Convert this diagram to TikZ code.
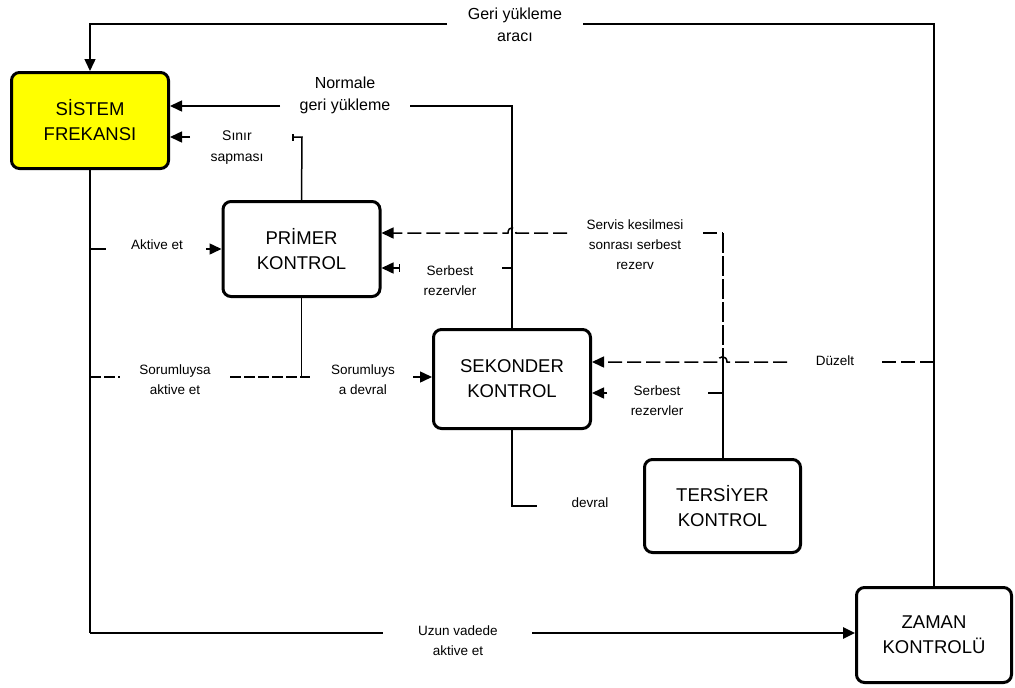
\documentclass[tikz,border=0pt]{standalone}
\usepackage{fontspec}
\setmainfont{Liberation Sans}
\usetikzlibrary{arrows.meta}
\definecolor{sysyellow}{HTML}{FFFF00}
\begin{document}
\begin{tikzpicture}[x=1pt,y=-1pt,
  box/.style={draw,line width=3pt,rounded corners=8pt,align=center,inner sep=0pt,
    font=\fontsize{18.5}{25}\selectfont},
  lbl/.style={align=center,inner sep=0pt,font=\fontsize{13.5}{20}\selectfont},
  biglbl/.style={align=center,inner sep=0pt,font=\fontsize{16}{22}\selectfont},
  conn/.style={line width=1.5pt},
  thickconn/.style={line width=2.6pt},
  tip/.style={-{Triangle[length=12pt,width=11pt]}},
  dsh/.style={conn,dash pattern=on 14pt off 5pt},
  vdsh/.style={line width=2pt,dash pattern=on 20pt off 3pt},
  tdsh/.style={thickconn,dash pattern=on 11pt off 3pt},
]
\useasboundingbox (0,0) rectangle (1015,688);

% boxes
\node[box,fill=sysyellow,minimum width=157pt,minimum height=96pt] (sis) at (90,120.5) {SİSTEM\\FREKANSI};
\node[box,minimum width=157pt,minimum height=95pt] (prim) at (301.5,249) {PRİMER\\KONTROL};
\node[box,minimum width=157pt,minimum height=99pt] (sek) at (512,379) {SEKONDER\\KONTROL};
\node[box,minimum width=156pt,minimum height=93pt] (ter) at (722.5,506) {TERSİYER\\KONTROL};
\node[box,minimum width=155pt,minimum height=95pt] (zam) at (934,635) {ZAMAN\\KONTROLÜ};

% labels
\node[biglbl] (geri) at (515,25) {Geri yükleme\\aracı};
\node[biglbl] (norm) at (345,95) {Normale\\geri yükleme};
\node[lbl,font=\fontsize{14}{21}\selectfont] (sinir) at (237,148) {Sınır\\sapması};
\node[lbl] (akt) at (157,245) {Aktive et};
\node[lbl] (soract) at (175,380) {Sorumluysa\\aktive et};
\node[lbl] (sordev) at (363,380) {Sorumluys\\a devral};
\node[lbl] (servis) at (635,245) {Servis kesilmesi\\sonrası serbest\\rezerv};
\node[lbl] (serb1) at (450,281) {Serbest\\rezervler};
\node[lbl] (duz) at (835,361) {Düzelt};
\node[lbl] (serb2) at (657,401) {Serbest\\rezervler};
\node[lbl] (devral) at (590,503) {devral};
\node[lbl] (uzun) at (458,641) {Uzun vadede\\aktive et};

% coordinates for free ends
\coordinate (t1) at (447,24);
\coordinate (t2) at (583,24);
\coordinate (n1) at (410,106);
\coordinate (n2) at (280,106);
\coordinate (s0) at (302,137);
\coordinate (s1) at (190,137);
\coordinate (a1) at (106,249);
\coordinate (a2) at (206,249);
\coordinate (u1) at (383,633);
\coordinate (u2) at (532,633);
\coordinate (r1) at (120,377);
\coordinate (r2) at (230,377);
\coordinate (r3) at (310,377);
\coordinate (r4) at (413,377);
\coordinate (v1) at (567,233);
\coordinate (v2) at (703,233);
\coordinate (b1) at (400,268);
\coordinate (b2) at (502,268);
\coordinate (d1) at (882,362);
\coordinate (d2) at (787,362);
\coordinate (c1) at (607,393);
\coordinate (c2) at (708,393);
\coordinate (e1) at (537,506);

% top loop
\draw[conn,tip] (t1) -- (sis.north |- t1) -- (sis.north);
\draw[conn] (t2) -- (zam.north |- t2) -- (zam.north);

% normale geri yukleme
\draw[conn] (n1) -- (sek.north |- n1) -- (sek.north);
\draw[conn,tip] (n2) -- (sis.east |- n2);

% sinir sapmasi
\draw[conn,{Bar[width=7pt]}-] ([xshift=-10pt]s0) -- (s0) -- (prim.north);
\draw[conn,tip] (s1) -- (sis.east |- s1);

% aktive et
\draw[conn] (sis.south |- a1) -- (a1);
\draw[conn,tip] (a2) -- (prim.west |- a2);

% long-term
\draw[conn] (sis.south) -- (sis.south |- u1);
\draw[thickconn] (sis.south |- u1) -- (u1);
\draw[thickconn,tip] (u2) -- (zam.west |- u2);

% sorumluysa
\draw[tdsh] (sis.south |- r1) -- (r1);
\draw[tdsh] (r2) -- (r3);
\draw[conn] (prim.south) -- (prim.south |- r3);
\draw[conn,tip] (r4) -- (sek.west |- r4);

% servis kesilmesi
\draw[dsh,tip] (v1) -- (516,233) .. controls (516,226) and (508,226) .. (508,233) -- (prim.east |- v1);
\draw[dsh] (v2) -- (ter.north |- v2);
\draw[vdsh] (ter.north |- v2) -- (ter.north |- d1);
\draw[line width=2pt] (ter.north |- d1) -- (ter.north);

% serbest rezervler (primer)
\draw[conn,{Bar[width=8pt]}-{Triangle[length=12pt,width=11pt]}] (b1) -- (prim.east |- b1);
\draw[conn] (b2) -- (sek.north |- b2);

% duzelt
\draw[dsh] (d1) -- (zam.north |- d1);
\draw[dsh,tip] (d2) -- (727,362) .. controls (727,355) and (718,355) .. (718,362) -- (sek.east |- d2);

% serbest rezervler (sekonder)
\draw[conn,tip] (c1) -- (sek.east |- c1);
\draw[thickconn] (c2) -- (ter.north |- c2);

% devral
\draw[conn] (sek.south) -- (sek.south |- e1) -- (e1);
\end{tikzpicture}
\end{document}
